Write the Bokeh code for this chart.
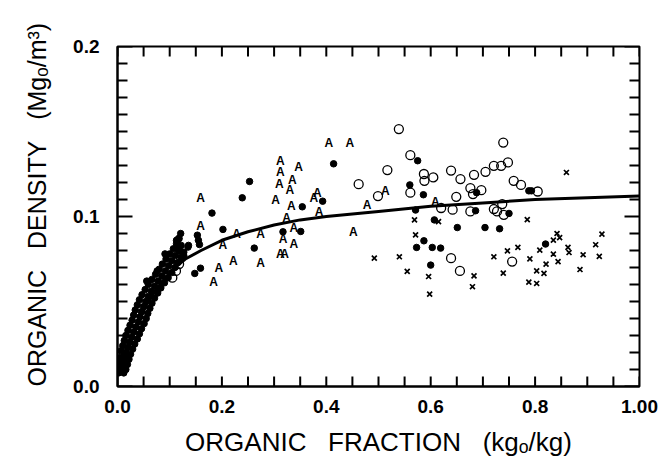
import numpy as np
from bokeh.plotting import figure
from bokeh.models import LinearAxis, FixedTicker, Range1d, Title
from bokeh.core.properties import value
from bokeh.embed import file_html
from bokeh.resources import INLINE

# ---- data ----
# filled circles
fc_x = [0.002, 0.006, 0.012, 0.003, 0.009, 0.016, 0.004, 0.011, 0.019, 0.005,
        0.013, 0.022, 0.007, 0.016, 0.025, 0.010, 0.020, 0.029, 0.013, 0.023,
        0.033, 0.016, 0.027, 0.038, 0.020, 0.031, 0.042, 0.024, 0.035, 0.046,
        0.028, 0.040, 0.051, 0.031, 0.043, 0.055, 0.034, 0.046, 0.058, 0.038,
        0.050, 0.062, 0.042, 0.054, 0.066, 0.047, 0.059, 0.071, 0.053, 0.065,
        0.077, 0.059, 0.071, 0.083, 0.066, 0.078, 0.090, 0.073, 0.085, 0.097,
        0.080, 0.092, 0.104, 0.086, 0.098, 0.110, 0.093, 0.104, 0.116, 0.100,
        0.111, 0.122, 0.107, 0.117, 0.127, 0.113, 0.122, 0.118,
        0.056, 0.076, 0.091, 0.121, 0.117, 0.136, 0.113, 0.116, 0.119, 0.127,
        0.135, 0.148, 0.159, 0.153, 0.155, 0.157, 0.181, 0.202, 0.239, 0.253,
        0.262, 0.317, 0.351, 0.354, 0.393, 0.414, 0.560, 0.575, 0.586, 0.571,
        0.607, 0.651, 0.573, 0.587, 0.603, 0.619, 0.600, 0.688, 0.686, 0.750,
        0.704, 0.732, 0.788, 0.793, 0.820]
fc_y = [0.008, 0.009, 0.008, 0.011, 0.012, 0.010, 0.014, 0.015, 0.013, 0.017,
        0.018, 0.016, 0.021, 0.020, 0.019, 0.024, 0.023, 0.022, 0.027, 0.026,
        0.025, 0.030, 0.029, 0.028, 0.033, 0.032, 0.031, 0.036, 0.035, 0.034,
        0.039, 0.038, 0.037, 0.042, 0.041, 0.040, 0.045, 0.044, 0.043, 0.048,
        0.047, 0.046, 0.051, 0.050, 0.049, 0.054, 0.053, 0.052, 0.057, 0.056,
        0.055, 0.060, 0.059, 0.058, 0.063, 0.062, 0.061, 0.066, 0.065, 0.064,
        0.069, 0.068, 0.067, 0.072, 0.071, 0.070, 0.075, 0.074, 0.073, 0.078,
        0.077, 0.076, 0.081, 0.080, 0.079, 0.084, 0.083, 0.087,
        0.062, 0.068, 0.078, 0.090, 0.087, 0.083, 0.086, 0.083, 0.080, 0.077,
        0.082, 0.0665, 0.0696, 0.089, 0.086, 0.0835, 0.102, 0.0924, 0.111, 0.1206,
        0.0814, 0.091, 0.0912, 0.1057, 0.109, 0.131, 0.1186, 0.1328, 0.1128, 0.1038,
        0.098, 0.0935, 0.0818, 0.0857, 0.0818, 0.0814, 0.0714, 0.114, 0.1034, 0.1018,
        0.0935, 0.0928, 0.1151, 0.1151, 0.0838]

# open circles
oc_x = [0.539, 0.561, 0.517, 0.462, 0.499, 0.587, 0.588, 0.605, 0.561, 0.639,
        0.657, 0.683, 0.649, 0.620, 0.642, 0.676, 0.639, 0.656, 0.739, 0.748,
        0.735, 0.721, 0.705, 0.759, 0.773, 0.805, 0.676, 0.681, 0.697, 0.737,
        0.721, 0.727, 0.740, 0.756, 0.105, 0.112, 0.118]
oc_y = [0.1514, 0.1361, 0.1273, 0.119, 0.112, 0.125, 0.121, 0.123, 0.114, 0.127,
        0.122, 0.1245, 0.1116, 0.105, 0.104, 0.103, 0.0755, 0.068, 0.1435, 0.1318,
        0.1298, 0.1298, 0.1263, 0.121, 0.1186, 0.1147, 0.1167, 0.1132, 0.1155, 0.1073,
        0.1044, 0.103, 0.101, 0.0735, 0.064, 0.068, 0.072]

# "A" symbols
a_x = [0.159, 0.159, 0.184, 0.194, 0.202, 0.222, 0.228, 0.274, 0.274, 0.303,
       0.312, 0.320, 0.312, 0.312, 0.310, 0.335, 0.330, 0.333, 0.324, 0.338,
       0.338, 0.347, 0.317, 0.405, 0.445, 0.376, 0.383, 0.386, 0.478, 0.452,
       0.513, 0.609]
a_y = [0.1106, 0.0945, 0.0612, 0.070, 0.0834, 0.0739, 0.0896, 0.0724, 0.0896, 0.1096,
       0.0779, 0.0779, 0.1328, 0.1259, 0.1194, 0.1214, 0.1155, 0.106, 0.099, 0.0935,
       0.0838, 0.129, 0.087, 0.1435, 0.1435, 0.111, 0.114, 0.1024, 0.107, 0.0906,
       0.115, 0.1088]

# "x" symbols
xs_x = [0.492, 0.540, 0.555, 0.596, 0.598, 0.569, 0.571, 0.615, 0.683, 0.680,
        0.860, 0.785, 0.842, 0.847, 0.835, 0.928, 0.916, 0.863, 0.865, 0.809,
        0.767, 0.747, 0.721, 0.790, 0.835, 0.844, 0.892, 0.923, 0.821, 0.817,
        0.803, 0.739, 0.886, 0.788, 0.803]
xs_y = [0.0755, 0.0763, 0.0677, 0.0647, 0.0543, 0.098, 0.0892, 0.097, 0.0651, 0.0587,
        0.1259, 0.0982, 0.090, 0.0876, 0.0861, 0.0896, 0.0834, 0.0818, 0.0788, 0.0802,
        0.0818, 0.0798, 0.0763, 0.0751, 0.0779, 0.0735, 0.0775, 0.0765, 0.072, 0.0665,
        0.068, 0.0667, 0.0688, 0.0614, 0.0606]

# fitted curve
curve_x = [0.004, 0.015, 0.027, 0.041, 0.052, 0.069, 0.092, 0.114, 0.13, 0.16,
           0.2, 0.25, 0.3, 0.35, 0.4, 0.5, 0.6, 0.7, 0.8, 0.9, 1.0]
curve_y = [0.008, 0.018, 0.028, 0.038, 0.046, 0.055, 0.064, 0.071, 0.075, 0.080,
           0.086, 0.091, 0.095, 0.098, 0.100, 0.103, 0.106, 0.108, 0.110, 0.111, 0.112]

x_ticks = [0, 0.2, 0.4, 0.6, 0.8, 1.0]
x_labels = ["0.0", "0.2", "0.4", "0.6", "0.8", "1.00"]
y_ticks = [0, 0.1, 0.2]
y_labels = ["0.0", "0.1", "0.2"]
x_minor = [round(0.05 * i, 2) for i in range(21)]
y_minor = [round(0.01 * i, 2) for i in range(21)]

SP = "\u00a0\u00a0\u00a0"
x_title = "ORGANIC" + SP + "FRACTION" + SP + "(kg\u2092/kg)"
y_title = "ORGANIC" + SP + "DENSITY" + SP + "(Mg\u2092/m\u00b3)"

# ---- layout ----
W, H = 664, 460
BL, BR, BT, BB = 117, 25, 46, 74
X0, X1 = 0.0, 1.0
Y0, Y1 = 0.0, 0.2
FRAME_W = W - BL - BR
FRAME_H = H - BT - BB

p = figure(width=W, height=H, output_backend="svg", toolbar_location=None,
           x_range=Range1d(X0, X1), y_range=Range1d(Y0, Y1),
           x_axis_location=None, y_axis_location=None,
           min_border_left=BL, min_border_right=BR,
           min_border_top=BT, min_border_bottom=BB)
p.outline_line_color = "black"
p.outline_line_width = 2
p.background_fill_color = "white"
p.border_fill_color = "white"
p.xgrid.grid_line_color = None
p.ygrid.grid_line_color = None

TICK_FONT = "Liberation Sans"
TITLE_FONT = "Liberation Sans"


def style_axis(ax):
    ax.major_tick_in = 0
    ax.major_tick_out = 0
    ax.minor_tick_in = 0
    ax.minor_tick_out = 0
    ax.axis_line_width = 2
    ax.axis_line_color = "black"
    ax.major_label_text_font = TICK_FONT
    ax.major_label_text_font_style = "bold"
    ax.major_label_text_font_size = "19px"
    ax.major_label_text_color = "black"
    ax.axis_label_text_font = TITLE_FONT
    ax.axis_label_text_font_style = "normal"
    ax.axis_label_text_font_size = "26px"
    ax.axis_label_text_color = "black"


xb = LinearAxis(ticker=FixedTicker(ticks=x_ticks, minor_ticks=x_minor))
style_axis(xb)
xb.major_label_overrides = dict(zip(x_ticks, x_labels))
xb.major_label_standoff = 13
xb.axis_label = x_title
xb.axis_label_standoff = 11
p.add_layout(xb, "below")

yl = LinearAxis(ticker=FixedTicker(ticks=y_ticks, minor_ticks=y_minor))
style_axis(yl)
yl.major_label_overrides = dict(zip(y_ticks, y_labels))
yl.major_label_standoff = 18
p.add_layout(yl, "left")

yt = Title(text=y_title, align="left", offset=0, standoff=39,
           text_font=TITLE_FONT, text_font_size="25px", text_font_style="normal",
           text_color="black")
p.add_layout(yt, "left")

# ---- inward tick marks on all four sides (lengths in pixels -> data units) ----
dx_minor = 10 / FRAME_W * (X1 - X0)
dx_major = 15 / FRAME_W * (X1 - X0)
dy_minor = 10 / FRAME_H * (Y1 - Y0)
tk = dict(line_color="black", line_width=2, line_cap="butt")
# bottom and top
p.segment(x0=x_minor, y0=[Y0] * len(x_minor), x1=x_minor, y1=[Y0 + dy_minor] * len(x_minor), **tk)
p.segment(x0=x_minor, y0=[Y1 - dy_minor] * len(x_minor), x1=x_minor, y1=[Y1] * len(x_minor), **tk)
# left and right (major ticks a bit longer)
y_len = [dx_major if any(abs(v - t) < 1e-9 for t in y_ticks) else dx_minor for v in y_minor]
p.segment(x0=[X0] * len(y_minor), y0=y_minor, x1=[X0 + l for l in y_len], y1=y_minor, **tk)
p.segment(x0=[X1 - l for l in y_len], y0=y_minor, x1=[X1] * len(y_minor), y1=y_minor, **tk)

# ---- data glyphs ----
p.scatter(fc_x, fc_y, marker="circle", size=6.5, fill_color="black", line_color="black")
p.scatter(oc_x, oc_y, marker="circle", size=9, fill_color=None, line_color="black", line_width=1.3)
p.scatter(xs_x, xs_y, marker="x", size=7, line_color="black", line_width=1.7)
p.text(a_x, a_y, text=["A"] * len(a_x), text_font=value("Liberation Sans"),
       text_font_size="12px", text_font_style="bold", text_align="center",
       text_baseline="middle", text_color="black")
p.line(curve_x, curve_y, line_width=3, line_color="black")

open("out.html", "w").write(file_html(p, INLINE))
